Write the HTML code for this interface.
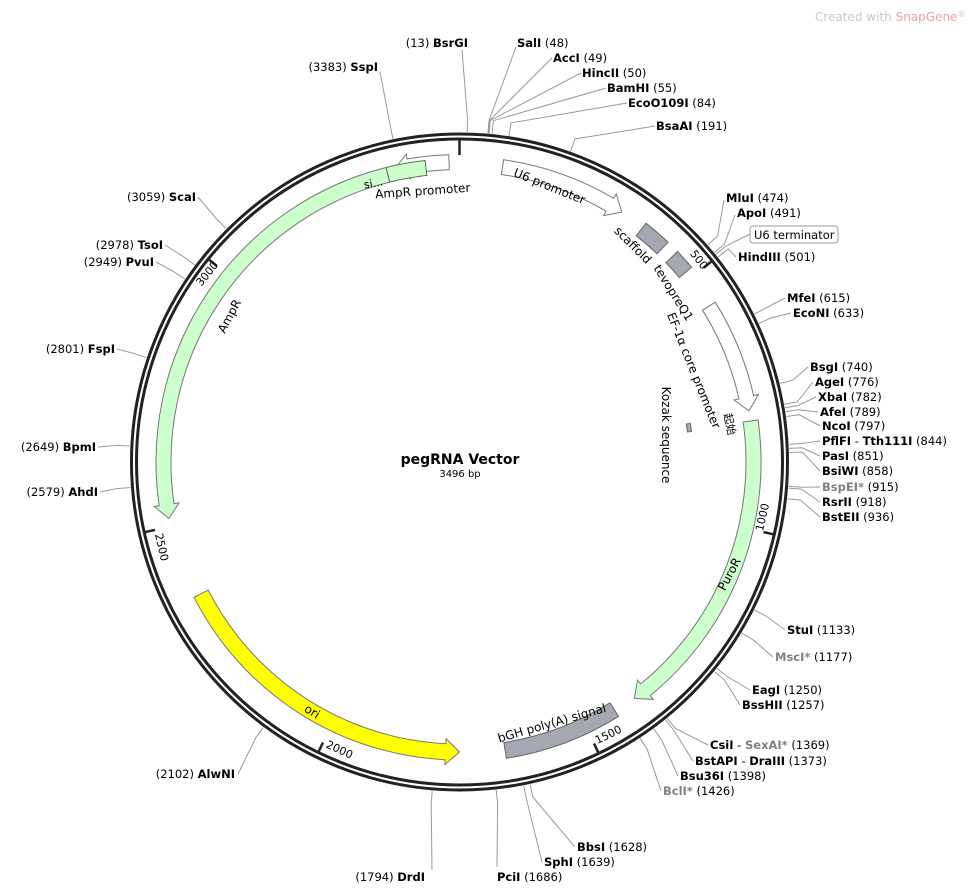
<!DOCTYPE html>
<html><head><meta charset="utf-8">
<style>
html,body{margin:0;padding:0;background:#fff;}
svg{display:block;font-family:"DejaVu Sans","Liberation Sans","Noto Sans CJK SC",sans-serif;font-size:11.5px;}
.b{font-weight:bold;}
.g{fill:#808080;}
.l{stroke:#999;stroke-width:1;fill:none;}
</style></head><body>
<svg id="s" width="975" height="894" viewBox="0 0 975 894" xmlns="http://www.w3.org/2000/svg">
<g id="shapes"></g>
<circle cx="459.5" cy="462" r="328" fill="none" stroke="#222" stroke-width="3"/>
<circle cx="459.5" cy="462" r="323" fill="none" stroke="#222" stroke-width="3"/>
<g id="ticks"></g>
<g id="lines"></g>
<text x="815" y="21" fill="#c8c8c8" font-size="12">Created with <tspan fill="#f4a0a0">SnapGene</tspan><tspan font-size="8" dy="-4">®</tspan></text>
<text x="460" y="464" text-anchor="middle" class="b" font-size="14">pegRNA Vector</text>
<text x="460" y="477" text-anchor="middle" font-size="10">3496 bp</text>
<text x="468" y="47" text-anchor="end">(13)  <tspan class="b">BsrGI</tspan></text>
<text x="517" y="47"><tspan class="b">SalI</tspan>  (48)</text>
<text x="553" y="62"><tspan class="b">AccI</tspan>  (49)</text>
<text x="582" y="77"><tspan class="b">HincII</tspan>  (50)</text>
<text x="607" y="92"><tspan class="b">BamHI</tspan>  (55)</text>
<text x="628" y="107"><tspan class="b">EcoO109I</tspan>  (84)</text>
<text x="656" y="130"><tspan class="b">BsaAI</tspan>  (191)</text>
<text x="378" y="71" text-anchor="end">(3383)  <tspan class="b">SspI</tspan></text>
<text x="726" y="202"><tspan class="b">MluI</tspan>  (474)</text>
<text x="737" y="217"><tspan class="b">ApoI</tspan>  (491)</text>
<rect x="750" y="226" width="88" height="17" rx="3" fill="#fff" stroke="#999"/>
<text x="754" y="239">U6 terminator</text>
<text x="738" y="261"><tspan class="b">HindIII</tspan>  (501)</text>
<text x="787" y="302"><tspan class="b">MfeI</tspan>  (615)</text>
<text x="793" y="317"><tspan class="b">EcoNI</tspan>  (633)</text>
<text x="810" y="371"><tspan class="b">BsgI</tspan>  (740)</text>
<text x="815" y="386"><tspan class="b">AgeI</tspan>  (776)</text>
<text x="818" y="401"><tspan class="b">XbaI</tspan>  (782)</text>
<text x="820" y="416"><tspan class="b">AfeI</tspan>  (789)</text>
<text x="822" y="430"><tspan class="b">NcoI</tspan>  (797)</text>
<text x="822" y="445"><tspan class="b">PflFI</tspan> - <tspan class="b">Tth111I</tspan>  (844)</text>
<text x="822" y="460"><tspan class="b">PasI</tspan>  (851)</text>
<text x="822" y="475"><tspan class="b">BsiWI</tspan>  (858)</text>
<text x="822" y="491"><tspan class="b g">BspEI*</tspan>  (915)</text>
<text x="822" y="506"><tspan class="b">RsrII</tspan>  (918)</text>
<text x="822" y="521"><tspan class="b">BstEII</tspan>  (936)</text>
<text x="787" y="634"><tspan class="b">StuI</tspan>  (1133)</text>
<text x="775" y="661"><tspan class="b g">MscI*</tspan>  (1177)</text>
<text x="752" y="694"><tspan class="b">EagI</tspan>  (1250)</text>
<text x="742" y="709"><tspan class="b">BssHII</tspan>  (1257)</text>
<text x="710" y="749"><tspan class="b">CsiI</tspan> - <tspan class="b g">SexAI*</tspan>  (1369)</text>
<text x="695" y="765"><tspan class="b">BstAPI</tspan> - <tspan class="b">DraIII</tspan>  (1373)</text>
<text x="680" y="780"><tspan class="b">Bsu36I</tspan>  (1398)</text>
<text x="663" y="795"><tspan class="b g">BclI*</tspan>  (1426)</text>
<text x="577" y="851"><tspan class="b">BbsI</tspan>  (1628)</text>
<text x="544" y="866"><tspan class="b">SphI</tspan>  (1639)</text>
<text x="497" y="881"><tspan class="b">PciI</tspan>  (1686)</text>
<text x="425" y="881" text-anchor="end">(1794)  <tspan class="b">DrdI</tspan></text>
<text x="235" y="778" text-anchor="end">(2102)  <tspan class="b">AlwNI</tspan></text>
<text x="98" y="496" text-anchor="end">(2579)  <tspan class="b">AhdI</tspan></text>
<text x="96" y="451" text-anchor="end">(2649)  <tspan class="b">BpmI</tspan></text>
<text x="115" y="353" text-anchor="end">(2801)  <tspan class="b">FspI</tspan></text>
<text x="154" y="266" text-anchor="end">(2949)  <tspan class="b">PvuI</tspan></text>
<text x="163" y="249" text-anchor="end">(2978)  <tspan class="b">TsoI</tspan></text>
<text x="196" y="201" text-anchor="end">(3059)  <tspan class="b">ScaI</tspan></text>
<text transform="translate(548,190) rotate(22)" text-anchor="middle" font-size="12">U6 promoter</text>
<text transform="translate(423,195) rotate(-4)" text-anchor="middle" font-size="12">AmpR promoter</text>
<text transform="translate(630,248) rotate(45)" text-anchor="middle" font-size="12">scaffold</text>
<text transform="translate(670,295) rotate(58)" text-anchor="middle" font-size="12">tevopreQ1</text>
<text transform="translate(690,372) rotate(68)" text-anchor="middle" font-size="12">EF-1α core promoter</text>
<text transform="translate(662,435) rotate(90)" text-anchor="middle" font-size="12">Kozak sequence</text>
<text transform="translate(726,425) rotate(78)" text-anchor="middle" font-size="11">起始</text>
<text transform="translate(733,576) rotate(-62)" text-anchor="middle" font-size="12">PuroR</text>
<text transform="translate(553,727) rotate(-16)" text-anchor="middle" font-size="12">bGH poly(A) signal</text>
<text transform="translate(310,715) rotate(32)" text-anchor="middle" font-size="12">ori</text>
<text transform="translate(233,318) rotate(-62)" text-anchor="middle" font-size="12">AmpR</text>
<text transform="translate(374,187) rotate(-10)" text-anchor="middle" font-size="11">si...</text>
<text transform="translate(696,262) rotate(51.5)" text-anchor="middle" font-size="11">500</text>
<text transform="translate(766,518) rotate(-77)" text-anchor="middle" font-size="11">1000</text>
<text transform="translate(610,738) rotate(-26)" text-anchor="middle" font-size="11">1500</text>
<text transform="translate(338,753) rotate(25)" text-anchor="middle" font-size="11">2000</text>
<text transform="translate(158,548) rotate(77)" text-anchor="middle" font-size="11">2500</text>
<text transform="translate(210,276) rotate(-51)" text-anchor="middle" font-size="11">3000</text>
</svg>
<script>
var cx=459.5,cy=462,N=3496,NS="http://www.w3.org/2000/svg";
function P(a,r){var t=a*Math.PI/180;return [cx+r*Math.sin(t),cy-r*Math.cos(t)];}
function f(p){return p[0].toFixed(1)+","+p[1].toFixed(1);}
function add(g,tag,at){var e=document.createElementNS(NS,tag);for(var k in at)e.setAttribute(k,at[k]);document.getElementById(g).appendChild(e);}
function arc(a1,a2,r){var sw=a2>a1?1:0;var lg=Math.abs(a2-a1)>180?1:0;return "A"+r+","+r+" 0 "+lg+" "+sw+" "+f(P(a2,r));}
function arrow(a1,a2,rc,w,fill,stroke){
 var dir=a2>a1?1:-1,h=14/rc*180/Math.PI,ab=a2-dir*h;
 var ro=rc+w/2,ri=rc-w/2;
 var d="M"+f(P(a1,ro))+arc(a1,ab,ro)+"L"+f(P(ab,ro+5))+"L"+f(P(a2,rc))+"L"+f(P(ab,ri-5))+"L"+f(P(ab,ri))+arc(ab,a1,ri)+"Z";
 add("shapes","path",{d:d,fill:fill,stroke:stroke,"stroke-width":1});
}
function box(a1,a2,rc,w,fill){var ro=rc+w/2,ri=rc-w/2;
 add("shapes","path",{d:"M"+f(P(a1,ro))+arc(a1,a2,ro)+"L"+f(P(a2,ri))+arc(a2,a1,ri)+"Z",fill:fill,stroke:"#666","stroke-width":1});}
arrow(8.3,33,298,15,"#fff","#777");
arrow(358,347.5,300,15,"#fff","#777");
box(38,43.5,295,16,"#a4a8b0");
box(46,50,295,16,"#a4a8b0");
arrow(58,80,294,15,"#fff","#777");
box(80.5,82.5,232,4,"#a4a8b0");
arrow(82,143.5,294,15,"#ccffcc","#777");
box(171,148,292,16,"#a4a8b0");
arrow(243,180,290,16,"#ffff00","#777");
arrow(346,259,296,15,"#ccffcc","#777");
box(346,353.5,296,15,"#ccffcc");
[[0,15],[500,10],[1000,10],[1500,10],[2000,10],[2500,10],[3000,10]].forEach(function(t){var a=t[0]/N*360;
 var p1=P(a,322),p2=P(a,322-t[1]);
 add("ticks","line",{x1:p1[0],y1:p1[1],x2:p2[0],y2:p2[1],stroke:"#222","stroke-width":2.5});});
var L=[[13,462,50],[48,516,47],[49,552,58],[50,581,73],[55,606,88],[84,627,103],[191,655,126],[3383,380,72],
[474,724,200],[491,735,215],[495,750,234],[501,736,257],[615,785,298],[633,791,313],
[740,808,367],[776,813,382],[782,816,397],[789,818,412],[797,820,426],[844,820,441],[851,820,456],[858,820,471],[915,820,487],[918,820,502],[936,820,517],
[1133,785,630],[1177,773,657],[1250,750,690],[1257,740,705],[1369,708,745],[1373,693,761],[1398,678,776],[1426,661,791],
[1628,575,847],[1639,542,862],[1686,497,867],[1794,432,870],[2102,238,774],
[2579,100,492],[2649,98,447],[2801,117,349],[2949,156,262],[2978,165,245],[3059,198,197]];
L.forEach(function(e){var a=e[0]/N*360,p1=P(a,330),p2=P(a,343);
 add("lines","polyline",{points:f(p1)+" "+f(p2)+" "+e[1]+","+e[2],class:"l"});});
</script>
</body></html>
